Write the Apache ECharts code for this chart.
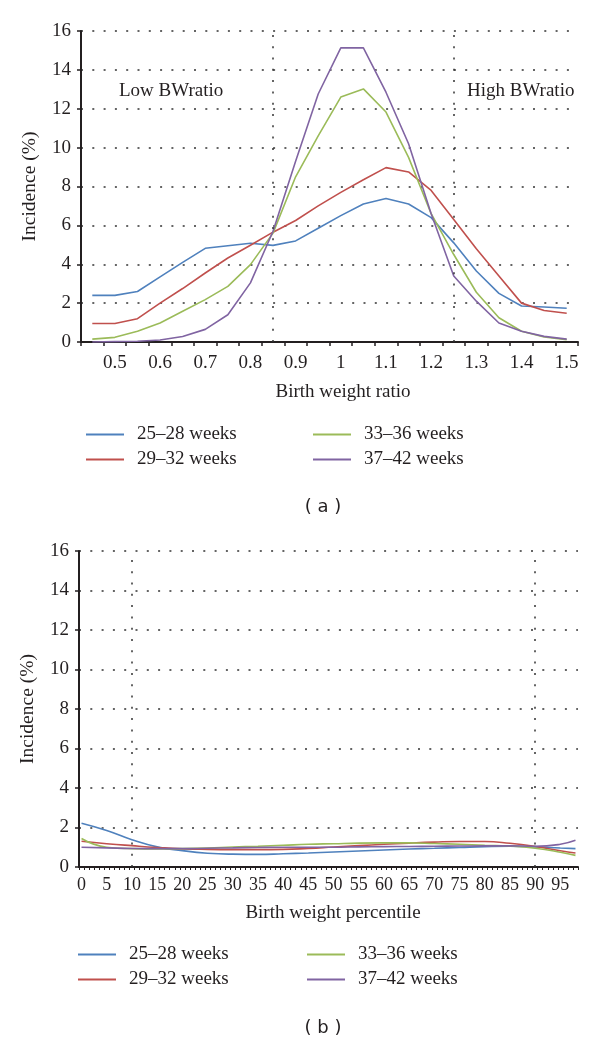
<!DOCTYPE html>
<html>
<head>
<meta charset="utf-8">
<script src="https://cdn.jsdelivr.net/npm/echarts@6/dist/echarts.min.js"></script>
<style>
  html, body { margin: 0; padding: 0; background: #ffffff; }
  #chart { width: 600px; height: 1043px; }
</style>
</head>
<body>
<div id="chart"></div>
<script>
// ---------- DATA ----------
const seriesNames = ['25–28 weeks', '29–32 weeks', '33–36 weeks', '37–42 weeks'];

// Panel (a): birth weight ratio categories
const ratioCats = ['0.45','0.5','0.55','0.6','0.65','0.7','0.75','0.8','0.85','0.9','0.95','1','1.05','1.1','1.15','1.2','1.25','1.3','1.35','1.4','1.45','1.5'];
const ratio2528 = [2.4, 2.4, 2.6, 3.35, 4.1, 4.82, 4.95, 5.08, 4.97, 5.2, 5.85, 6.5, 7.1, 7.38, 7.1, 6.4, 5.1, 3.65, 2.5, 1.85, 1.8, 1.74];
const ratio2932 = [0.95, 0.95, 1.2, 2.0, 2.75, 3.55, 4.32, 4.98, 5.65, 6.25, 7.0, 7.7, 8.35, 8.97, 8.75, 7.8, 6.3, 4.8, 3.4, 2.0, 1.62, 1.48];
const ratio3336 = [0.15, 0.24, 0.55, 0.98, 1.58, 2.18, 2.86, 3.98, 5.6, 8.5, 10.6, 12.6, 13.02, 11.83, 9.5, 6.6, 4.5, 2.56, 1.25, 0.55, 0.26, 0.12];
const ratio3742 = [0.0, 0.02, 0.04, 0.1, 0.28, 0.65, 1.4, 3.04, 5.7, 9.3, 12.76, 15.13, 15.13, 12.85, 10.2, 6.6, 3.4, 2.1, 0.98, 0.55, 0.29, 0.15];
const ratioLowCut = '0.85';
const ratioHighCut = '1.25';

// Panel (b): birth weight percentile categories 0..98
const pctCats = Array.from({ length: 99 }, (_, i) => String(i));
const pctPoints = [0, 5, 10, 15, 20, 25, 30, 35, 40, 45, 50, 55, 60, 65, 70, 75, 80, 85, 90, 95, 98];
const pct2528 = [2.22, 1.85, 1.38, 1.02, 0.83, 0.70, 0.65, 0.64, 0.67, 0.71, 0.76, 0.81, 0.86, 0.91, 0.95, 0.99, 1.03, 1.05, 1.02, 0.96, 0.93];
const pct2932 = [1.30, 1.18, 1.08, 0.99, 0.92, 0.89, 0.88, 0.88, 0.89, 0.94, 1.01, 1.08, 1.15, 1.21, 1.26, 1.29, 1.29, 1.20, 1.04, 0.82, 0.71];
const pct3336 = [1.44, 1.00, 0.93, 0.92, 0.93, 0.96, 1.01, 1.05, 1.10, 1.15, 1.18, 1.21, 1.22, 1.22, 1.19, 1.15, 1.10, 1.06, 0.95, 0.75, 0.59];
const pct3742 = [1.00, 0.97, 0.94, 0.93, 0.93, 0.95, 0.97, 0.99, 1.00, 1.00, 1.00, 1.02, 1.03, 1.04, 1.05, 1.06, 1.07, 1.07, 1.05, 1.15, 1.35];
const pctLowCut = '10';
const pctHighCut = '90';

const yTicks = { min: 0, max: 16, interval: 2 };

// ---------- STYLE ----------
const colors = ['#4F81BD', '#C0504D', '#9BBB59', '#8064A2'];
const serif = '"Liberation Serif", "DejaVu Serif", serif';
const ink = '#231f20';
const dotted = [2, 9.3];

const chart = echarts.init(document.getElementById('chart'), null, { renderer: 'canvas' });

function yAxisFor(gridIndex) {
  return {
    type: 'value', gridIndex, min: yTicks.min, max: yTicks.max, interval: yTicks.interval,
    name: 'Incidence (%)', nameLocation: 'middle', nameGap: 41,
    nameTextStyle: { fontFamily: serif, fontSize: 19.5, color: ink },
    axisLine: { show: true, lineStyle: { color: ink, width: 2 } },
    axisTick: { show: true, length: 4, lineStyle: { color: ink, width: 1.5 } },
    axisLabel: { fontFamily: serif, fontSize: 19, color: ink, margin: 10 },
    splitLine: { show: true, lineStyle: { color: '#333', width: 1.5, type: dotted } }
  };
}

function cutLines(cats, a, b) {
  return {
    silent: true, symbol: 'none', label: { show: false },
    lineStyle: { color: '#333', width: 1.5, type: dotted },
    data: [{ xAxis: cats.indexOf(a) }, { xAxis: cats.indexOf(b) }]
  };
}

const ratioSeries = [ratio2528, ratio2932, ratio3336, ratio3742].map((d, i) => ({
  name: seriesNames[i], type: 'line', xAxisIndex: 0, yAxisIndex: 0,
  data: d, symbol: 'none', smooth: false,
  lineStyle: { color: colors[i], width: 1.6 }, itemStyle: { color: colors[i] },
  markLine: i === 0 ? cutLines(ratioCats, ratioLowCut, ratioHighCut) : undefined,
  z: 3
}));

const pctSeries = [pct2528, pct2932, pct3336, pct3742].map((d, i) => ({
  name: seriesNames[i], type: 'line', xAxisIndex: 1, yAxisIndex: 1,
  data: pctPoints.map((p, k) => [p, d[k]]), symbol: 'none', smooth: true,
  lineStyle: { color: colors[i], width: 1.6 }, itemStyle: { color: colors[i] },
  markLine: i === 0 ? cutLines(pctCats, pctLowCut, pctHighCut) : undefined,
  z: 3
}));

function legendAt(names, left, top) {
  return {
    data: names, left, top, orient: 'vertical', padding: 0,
    icon: 'rect', itemWidth: 38, itemHeight: 2, itemGap: 6, selectedMode: false,
    textStyle: { fontFamily: serif, fontSize: 19, color: ink, lineHeight: 19, padding: [0, 0, 0, 8] }
  };
}

const option = {
  animation: false,
  backgroundColor: '#ffffff',
  color: colors,
  grid: [
    { left: 81, top: 31, width: 497, height: 311, containLabel: false },
    { left: 79, top: 551, width: 499, height: 316, containLabel: false }
  ],
  xAxis: [
    {
      type: 'category', gridIndex: 0, data: ratioCats, boundaryGap: true,
      name: 'Birth weight ratio', nameLocation: 'middle', nameGap: 41,
      nameTextStyle: { fontFamily: serif, fontSize: 19, color: ink, padding: [0, 0, 0, 27] },
      axisLine: { show: true, lineStyle: { color: ink, width: 2 } },
      axisTick: { show: true, interval: 0, length: 4, lineStyle: { color: ink, width: 1.5 } },
      axisLabel: { interval: (idx) => idx % 2 === 1, fontFamily: serif, fontSize: 19, color: ink, margin: 12 },
      splitLine: { show: false }
    },
    {
      type: 'category', gridIndex: 1, data: pctCats, boundaryGap: true,
      name: 'Birth weight percentile', nameLocation: 'middle', nameGap: 37,
      nameTextStyle: { fontFamily: serif, fontSize: 19, color: ink, padding: [0, 0, 0, 9] },
      axisLine: { show: true, lineStyle: { color: ink, width: 2 } },
      axisTick: { show: true, interval: 0, length: 3, lineStyle: { color: ink, width: 1 } },
      axisLabel: { interval: 4, fontFamily: serif, fontSize: 18, color: ink, margin: 9 },
      splitLine: { show: false }
    }
  ],
  yAxis: [yAxisFor(0), yAxisFor(1)],
  legend: [
    legendAt([seriesNames[0], seriesNames[1]], 86, 425),
    legendAt([seriesNames[2], seriesNames[3]], 313, 425),
    legendAt([seriesNames[0], seriesNames[1]], 78, 945),
    legendAt([seriesNames[2], seriesNames[3]], 307, 945)
  ],
  graphic: [
    { type: 'text', x: 119, y: 91, style: { text: 'Low BWratio', fontFamily: serif, fontSize: 19, fill: ink, verticalAlign: 'middle', align: 'left' } },
    { type: 'text', x: 467, y: 91, style: { text: 'High BWratio', fontFamily: serif, fontSize: 19, fill: ink, verticalAlign: 'middle', align: 'left' } },
    { type: 'text', x: 323, y: 507, style: { text: '( a )', fontFamily: '"DejaVu Sans", sans-serif', fontSize: 18, fill: ink, verticalAlign: 'middle', align: 'center' } },
    { type: 'text', x: 323, y: 1028, style: { text: '( b )', fontFamily: '"DejaVu Sans", sans-serif', fontSize: 18, fill: ink, verticalAlign: 'middle', align: 'center' } }
  ],
  series: ratioSeries.concat(pctSeries)
};

chart.setOption(option);
</script>
</body>
</html>
